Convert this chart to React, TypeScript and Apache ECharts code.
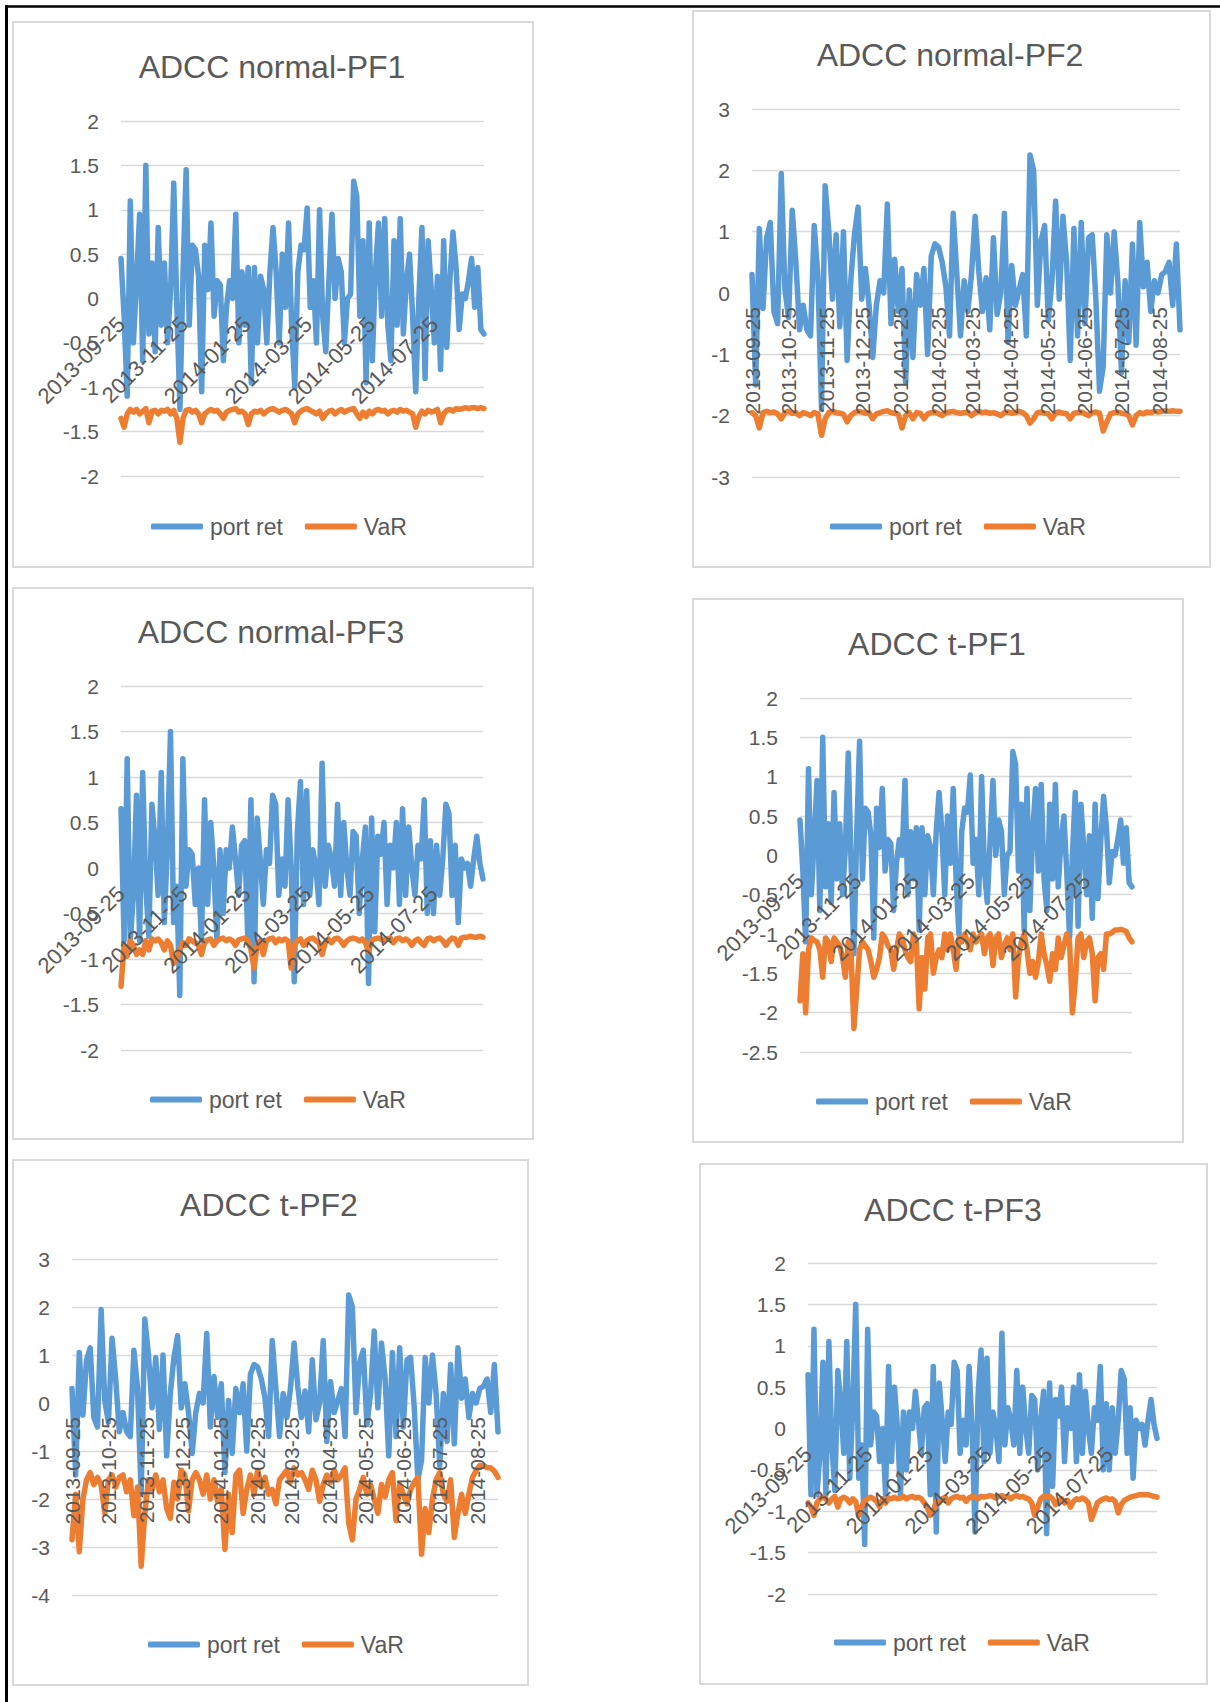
import React, { useEffect, useRef } from "react";
import * as echarts from "echarts";

// ---------- categories (calendar days on the date axis) ----------
const START_DATE = "2013-09-25";
const DAY_COUNT = 352; // 2013-09-25 .. 2014-09-11
const STEP = 3; // one stored value every 3 calendar days
const dates: string[] = Array.from({ length: DAY_COUNT }, (_, i) =>
  new Date(Date.parse(START_DATE + "T00:00:00Z") + i * 86400000).toISOString().slice(0, 10)
);

// ---------- series values ----------
const PF1_RET = [
  0.45, -0.2, -1.1, 1.1, -0.5, 0.2, 0.95, -0.7, 1.5, -0.4,
  0.4, -0.6, 0.8, -0.3, 0.4, -0.5, 0.1, 1.3, -0.1, -1.25,
  0.3, 1.45, -0.3, 0.6, 0.55, 0.25, -1.05, 0.6, 0.1, 0.85,
  -0.2, 0.2, 0.15, -0.7, -0.1, 0.2, 0, 0.95, -0.5, 0.3,
  -0.3, 0.35, -0.95, 0.35, -0.5, 0.25, 0.1, -0.5, 0.3, 0.8,
  0.3, -0.5, 0.5, -0.1, 0.85, -0.3, -1.0, 0.3, 0.6, 0.55,
  1.02, -0.1, 0.2, -0.5, 1.0, -0.2, -0.6, 0.2, 0.95, 0,
  0.45, 0.3, -0.5, 0, 0.05, 1.32, 1.15, -0.2, 0.65, -0.95,
  0.85, -0.7, 0.3, 0.85, -0.2, 0.9, -0.3, -0.7, 0.65, -0.3,
  0.9, -0.4, 0.2, 0.5, -0.2, -1.05, 0.0, 0.8, -0.9, 0.65,
  0.1, -0.5, 0.25, -0.8, 0.65, -0.55, 0.2, 0.75, 0.35, -0.35,
  0.05, 0, 0.2, 0.45, -0.1, 0.35, -0.35, -0.4,
];

const PF2_RET = [
  0.3, -1.5, 1.05, -0.25, 0.9, 1.15, -0.3, -0.5, 1.95, 0.05,
  -0.4, 1.35, 0.5, -0.6, -0.2, -0.6, -0.7, 1.1, 0.3, -1.9,
  1.75, 1.0, -0.1, 0.95, -0.55, 1.0, -1.1, 0.2, 0.95, 1.4,
  -0.1, 0.4, -0.2, -1.05, -0.2, 0.2, 0.0, 1.45, -0.5, 0.55,
  -0.3, 0.4, -1.45, 0.05, -1.05, 0.3, -0.2, 0.4, -1.0, 0.6,
  0.8, 0.75, 0.5, 0.1, -0.7, 1.3, 0.3, -0.7, 0.2, -0.3,
  0.3, 1.25, 0.35, -0.3, 0.25, -0.6, 0.9, -0.35, 0.0, 1.3,
  -0.8, 0.45, -0.2, 0.05, 0.3, -0.7, 2.25, 2.0, -0.2, 0.85,
  1.1, -0.45, 0.2, 1.5, -0.1, 1.25, 0.5, -1.1, 1.05, -0.7,
  1.15, -0.5, 0.9, 0.95, -0.1, -1.6, -1.2, 0.95, 0.0, 1.0,
  0.2, -1.3, 0.2, -0.8, 0.8, -0.85, 1.15, 0.1, 0.5, -0.3,
  0.2, 0.0, 0.3, 0.35, 0.5, -0.2, 0.8, -0.6,
];

const PF3_RET = [
  0.65, -0.8, 1.2, -0.8, -0.3, 0.8, -0.8, 1.05, -0.2, -0.75,
  0.7, 0.3, -0.3, 1.05, -0.6, 0.25, 1.5, -0.6, -0.2, -1.4,
  1.2, -0.2, 0.2, 0.15, -0.4, 0.0, -0.8, 0.75, -0.4, 0.5,
  0.0, -0.8, 0.2, -0.5, 0.2, 0.0, 0.45, 0.1, -0.3, 0.25,
  0.3, -0.8, 0.75, -1.25, 0.55, 0.1, -0.4, 0.2, 0.05, 0.8,
  0.7, -0.3, 0.1, -0.2, 0.75, 0.0, -1.25, 0.4, 0.95, -0.4,
  0.85, -0.3, 0.2, 0.0, -0.4, 1.15, -0.2, 0.25, 0.1, -0.2,
  0.7, -0.3, 0.5, 0.0, -0.3, 0.4, 0.35, -0.5, 0.1, 0.45,
  -1.27, 0.55, -0.7, 0.35, 0.15, 0.5, -0.4, 0.25, 0.0, 0.5,
  -0.4, 0.65, -0.3, 0.45, 0.0, -0.3, 0.25, 0.1, 0.75, -0.5,
  0.3, -0.5, 0.25, -0.3, 0.1, 0.7, 0.6, -0.3, 0.25, -0.6,
  0.1, 0.0, 0.05, -0.2, 0.1, 0.35, 0.05, -0.12,
];

const VAR_N_PF1 = [
  -1.35, -1.45, -1.3, -1.25, -1.28, -1.25, -1.3, -1.27, -1.24, -1.4,
  -1.27, -1.26, -1.3, -1.26, -1.27, -1.25, -1.3, -1.26, -1.35, -1.62,
  -1.35, -1.26, -1.25, -1.28, -1.26, -1.3, -1.4, -1.3, -1.27, -1.25,
  -1.27, -1.26, -1.3, -1.35, -1.28, -1.26, -1.25, -1.24, -1.28, -1.27,
  -1.3, -1.42, -1.3, -1.27, -1.28, -1.26, -1.3, -1.27, -1.25, -1.24,
  -1.26, -1.28, -1.26, -1.25, -1.27, -1.3, -1.4, -1.3, -1.27, -1.25,
  -1.24, -1.26, -1.28, -1.3, -1.27, -1.35, -1.3, -1.27, -1.26, -1.3,
  -1.27, -1.25, -1.28, -1.26, -1.25, -1.24, -1.3, -1.35, -1.28, -1.33,
  -1.27, -1.3, -1.26, -1.25, -1.27, -1.26, -1.3, -1.27, -1.26, -1.28,
  -1.25, -1.27, -1.26, -1.28, -1.3, -1.45, -1.33, -1.27, -1.3, -1.26,
  -1.28, -1.27, -1.25, -1.4, -1.3, -1.26, -1.25, -1.27, -1.24, -1.25,
  -1.24, -1.23, -1.24, -1.23, -1.23, -1.24, -1.23, -1.24,
];

const VAR_N_PF2 = [
  -1.95, -2.0, -2.2, -1.95, -1.93, -1.95, -1.94, -1.97, -2.05, -1.95,
  -1.93, -1.96, -1.95, -2.0, -1.95, -1.97, -2.0, -1.95, -1.97, -2.32,
  -2.05, -1.95, -1.93, -1.95, -1.96, -1.98, -2.1, -2.0, -1.95, -1.93,
  -1.94, -1.96, -1.95, -2.05, -1.97, -1.95, -1.93, -1.92, -1.95, -1.96,
  -1.98, -2.2, -2.0, -1.95, -2.05, -1.95, -1.96, -2.05, -1.97, -1.95,
  -1.94, -1.97, -2.0, -1.95, -1.94, -1.93, -1.95, -1.96, -1.95, -1.94,
  -2.0, -1.95, -1.93, -1.95, -1.94, -1.96, -1.95, -1.97, -2.0, -1.95,
  -1.94, -1.96, -1.95, -1.93, -1.95, -2.0, -2.12, -2.05, -1.95, -1.94,
  -1.96, -1.97, -2.05, -1.95, -1.94, -1.96, -1.97, -2.05, -1.96, -1.95,
  -1.94, -1.97, -2.0, -1.95, -1.94, -1.96, -2.25, -2.1, -1.97, -1.95,
  -1.94, -1.96, -1.97, -2.0, -2.15, -2.0, -1.95, -1.97, -1.94, -1.95,
  -1.93, -1.94, -1.93, -1.92, -1.93, -1.92, -1.93, -1.93,
];

const VAR_N_PF3 = [
  -1.3, -0.85, -0.97, -0.8, -0.85, -0.95, -0.9, -0.95, -0.8, -0.9,
  -0.78, -0.8, -0.78, -0.82, -0.9, -0.8, -0.85, -1.05, -1.0, -0.9,
  -0.82, -0.85, -0.78, -0.8, -0.82, -0.85, -0.95, -0.82, -0.79, -0.78,
  -0.85, -0.8, -0.78, -0.77, -0.8, -0.78, -0.8, -0.85, -0.79, -0.78,
  -0.77, -0.8, -0.9, -1.1, -0.85, -0.8, -0.95, -0.8, -0.78, -0.77,
  -0.82, -0.78, -0.8, -0.78, -0.8, -1.1, -0.85, -0.8, -0.78, -0.85,
  -0.8, -0.78, -0.77, -0.8, -0.82, -0.95, -0.82, -0.78, -0.82, -0.78,
  -0.77, -0.8, -0.85, -0.8, -0.78, -0.77, -0.78, -0.8, -0.78, -0.82,
  -0.92, -0.8, -0.78, -0.77, -0.78, -0.8, -0.78, -0.77, -0.82, -0.78,
  -0.77, -0.8, -0.78, -0.8, -0.85, -0.8, -0.78, -0.82, -0.85, -0.78,
  -0.77, -0.8, -0.78, -0.77, -0.8, -0.85, -0.8, -0.77, -0.78, -0.85,
  -0.77, -0.76, -0.76, -0.75, -0.76, -0.76, -0.75, -0.76,
];

const VAR_T_PF1 = [
  -1.85, -1.25, -2.0, -1.2, -1.05, -1.08, -1.1, -1.2, -1.55, -1.05,
  -1.1, -1.35, -1.05, -1.1, -1.15, -1.3, -1.55, -1.1, -1.25, -2.2,
  -1.7, -1.2, -1.1, -1.15, -1.2, -1.35, -1.55, -1.45, -1.3, -1.0,
  -1.05, -1.15, -1.2, -1.45, -1.2, -1.0, -1.05, -1.2, -1.3, -1.35,
  -1.0, -1.1, -1.95, -1.3, -1.7, -1.05, -1.0, -1.5, -1.3, -1.2,
  -1.3, -1.0, -1.2, -1.0, -1.2, -1.45, -1.05, -1.1, -1.0, -1.1,
  -1.2, -1.0, -1.1, -1.05, -1.0, -1.25, -1.05, -1.0, -1.4, -1.05,
  -1.0, -1.3, -1.15, -1.05, -1.2, -1.0, -1.8, -1.3, -1.1, -1.0,
  -1.2, -1.5, -1.35, -1.55, -1.35, -1.0, -1.25, -1.4, -1.6, -1.25,
  -1.45, -1.05, -1.3, -1.15, -1.0, -1.1, -2.0, -1.6, -1.05, -1.0,
  -1.3, -1.1, -1.05, -1.25, -1.85, -1.3, -1.25, -1.45, -1.0, -1.0,
  -0.98, -0.95, -0.95, -0.94, -0.95, -0.97, -1.05, -1.1,
];

const VAR_T_PF2 = [
  -2.85, -1.9, -3.1, -2.0, -1.6, -1.45, -1.7, -1.55, -1.7, -2.3,
  -1.6, -1.5, -1.75, -1.55, -1.5, -1.85, -1.6, -2.35, -1.75, -3.4,
  -2.3, -1.6, -1.8, -1.5, -1.85, -1.6, -2.2, -2.4, -1.65, -2.0,
  -1.4, -1.5, -2.25, -1.6, -1.45, -1.6, -1.9, -1.5, -2.0, -1.6,
  -2.05, -1.8, -3.05, -1.9, -2.7, -1.5, -1.4, -2.3, -1.8, -1.5,
  -1.9, -1.4, -1.75, -1.55, -1.9, -1.8, -2.1, -1.6, -1.5, -1.4,
  -1.65, -1.35, -1.5, -1.45, -1.6, -1.8, -1.4, -1.6, -2.05, -1.7,
  -1.5, -1.65, -1.4, -1.6, -1.5, -1.35, -2.5, -2.85, -2.0, -1.8,
  -1.55, -1.9, -1.7, -2.0, -2.3, -1.7, -1.95, -1.6, -1.45, -2.45,
  -1.7, -1.9, -2.1, -1.8, -1.65, -1.55, -3.15, -2.2, -2.7, -2.0,
  -1.6, -1.45, -1.9, -2.05, -1.6, -2.8, -2.3, -1.9, -2.3, -1.9,
  -1.55, -1.4, -1.3, -1.3, -1.35, -1.35, -1.42, -1.55,
];

const VAR_T_PF3 = [
  -0.9, -0.95, -1.05, -0.9, -0.85, -0.83, -0.85, -0.9, -0.85, -0.82,
  -0.95, -0.85, -0.83, -0.85, -0.9, -0.85, -0.88, -1.05, -0.95, -0.87,
  -0.85, -0.83, -0.85, -0.88, -0.95, -0.85, -0.9, -0.84, -0.85, -0.83,
  -0.85, -0.84, -0.82, -0.85, -0.83, -0.82, -0.84, -0.83, -0.85, -0.9,
  -0.95, -1.05, -1.0, -0.88, -0.9, -0.85, -0.83, -0.9, -0.85, -0.83,
  -0.82, -0.84, -0.83, -0.88, -0.84, -0.82, -0.83, -0.85, -0.82, -0.83,
  -0.82, -0.81, -0.82, -0.84, -0.82, -0.81, -0.83, -0.82, -0.85, -0.82,
  -0.81, -0.83, -0.82, -0.84, -0.85, -0.9, -1.05, -0.95, -0.85, -0.82,
  -0.83, -0.82, -0.85, -0.92, -0.88, -0.85, -0.9, -0.87, -0.95, -0.88,
  -0.85, -0.86, -0.84, -0.86, -0.9, -1.1, -1.0, -0.9, -0.87, -0.85,
  -0.84, -0.86, -0.85, -0.88, -1.02, -0.92, -0.87, -0.85, -0.83, -0.82,
  -0.81, -0.8, -0.8, -0.8, -0.8, -0.81, -0.82, -0.83,
];

const SERIES_NAMES = ["port ret", "VaR"];
const TITLES = [
  "ADCC normal-PF1",
  "ADCC normal-PF2",
  "ADCC normal-PF3",
  "ADCC t-PF1",
  "ADCC t-PF2",
  "ADCC t-PF3",
];

// ---------- layout / styles ----------
const FONT = '"Liberation Sans", Arial, sans-serif';
const TEXT = "#595959";
const GRIDC = "#d9d9d9";
const BLUE = "#5B9BD5";
const ORANGE = "#ED7D31";

type Panel = {
  box: number[];
  tx: number;
  ty: number;
  grid: number[];
  min: number;
  max: number;
  interval: number;
  rotate: number;
  monthly: boolean;
  lx: number;
  ly: number;
  ret: number[];
  vr: number[];
};

const PANELS: Panel[] = [
  { box: [13, 22, 520, 545], tx: 272, ty: 67, grid: [121, 121, 363, 355], min: -2, max: 2, interval: 0.5, rotate: 45, monthly: false, lx: 151, ly: 529, ret: PF1_RET, vr: VAR_N_PF1 },
  { box: [693, 11, 517, 556], tx: 950, ty: 55, grid: [752, 109, 428, 368], min: -3, max: 3, interval: 1, rotate: 90, monthly: true, lx: 830, ly: 529, ret: PF2_RET, vr: VAR_N_PF2 },
  { box: [13, 588, 520, 551], tx: 271, ty: 632, grid: [121, 686, 362, 364], min: -2, max: 2, interval: 0.5, rotate: 45, monthly: false, lx: 150, ly: 1102, ret: PF3_RET, vr: VAR_N_PF3 },
  { box: [693, 599, 490, 543], tx: 937, ty: 644, grid: [800, 698, 332, 354], min: -2.5, max: 2, interval: 0.5, rotate: 45, monthly: false, lx: 816, ly: 1104, ret: PF1_RET, vr: VAR_T_PF1 },
  { box: [13, 1160, 515, 525], tx: 269, ty: 1205, grid: [72, 1259, 426, 336], min: -4, max: 3, interval: 1, rotate: 90, monthly: true, lx: 148, ly: 1647, ret: PF2_RET, vr: VAR_T_PF2 },
  { box: [700, 1164, 507, 520], tx: 953, ty: 1210, grid: [808, 1263, 349, 331], min: -2, max: 2, interval: 0.5, rotate: 45, monthly: false, lx: 834, ly: 1645, ret: PF3_RET, vr: VAR_T_PF3 },
];

const toPairs = (vals: number[]) => vals.map((v, i) => [i * STEP, v]);

function buildOption() {
  const grid: any[] = [];
  const xAxis: any[] = [];
  const yAxis: any[] = [];
  const series: any[] = [];
  const legend: any[] = [];
  const graphic: any[] = [];

  PANELS.forEach((p, i) => {
    grid.push({ left: p.grid[0], top: p.grid[1], width: p.grid[2], height: p.grid[3], containLabel: false });
    const labelFn = p.monthly
      ? (_idx: number, val: string) => val.endsWith("-25")
      : (_idx: number, val: string) => val.endsWith("-25") && parseInt(val.slice(5, 7), 10) % 2 === 1;
    // distance from the bottom of the plot to the zero line: the date axis sits on 0
    const zeroOffset = (p.grid[3] * -p.min) / (p.max - p.min);
    const diag = p.rotate !== 90;
    xAxis.push({
      type: "category",
      gridIndex: i,
      data: dates,
      boundaryGap: false,
      position: "bottom",
      offset: -zeroOffset,
      z: 5,
      axisLine: { show: false, onZero: false },
      axisTick: { show: false },
      axisLabel: {
        interval: labelFn,
        rotate: p.rotate,
        margin: diag ? 22 : 14,
        padding: diag ? [24, 0, 0, 0] : 0,
        fontSize: diag ? 22 : 21,
        color: TEXT,
        fontFamily: FONT,
      },
      splitLine: { show: false },
    });
    yAxis.push({
      type: "value",
      gridIndex: i,
      min: p.min,
      max: p.max,
      interval: p.interval,
      axisLine: { show: false },
      axisTick: { show: false },
      axisLabel: { fontSize: 21, color: TEXT, fontFamily: FONT, margin: 22 },
      splitLine: { lineStyle: { color: GRIDC, width: 1.3 } },
    });
    series.push({
      name: SERIES_NAMES[0],
      type: "line",
      xAxisIndex: i,
      yAxisIndex: i,
      data: toPairs(p.ret),
      symbol: "none",
      showSymbol: false,
      color: BLUE,
      lineStyle: { color: BLUE, width: 5.5, cap: "round", join: "round" },
      z: 2,
    });
    series.push({
      name: SERIES_NAMES[1],
      type: "line",
      xAxisIndex: i,
      yAxisIndex: i,
      data: toPairs(p.vr),
      symbol: "none",
      showSymbol: false,
      color: ORANGE,
      lineStyle: { color: ORANGE, width: 5.5, cap: "round", join: "round" },
      z: 3,
    });
    legend.push({
      data: SERIES_NAMES,
      left: p.lx,
      top: p.ly - 14,
      padding: 0,
      itemWidth: 52,
      itemHeight: 6,
      itemGap: 22,
      icon: "roundRect",
      selectedMode: false,
      textStyle: { fontSize: 23, color: TEXT, fontFamily: FONT, padding: [0, 0, 0, 2] },
    });
    graphic.push({
      type: "rect",
      shape: { x: p.box[0], y: p.box[1], width: p.box[2], height: p.box[3] },
      style: { fill: "none", stroke: GRIDC, lineWidth: 2 },
      z: 1,
      silent: true,
    });
    graphic.push({
      type: "text",
      x: p.tx,
      y: p.ty,
      style: {
        text: TITLES[i],
        font: `32px ${FONT}`,
        fill: TEXT,
        textAlign: "center",
        textVerticalAlign: "middle",
        align: "center",
        verticalAlign: "middle",
      },
      z: 10,
      silent: true,
    });
  });

  // outer black frame (top and left edges)
  graphic.push({
    type: "line",
    shape: { x1: 5, y1: 6.5, x2: 1220, y2: 6.5 },
    style: { stroke: "#000", lineWidth: 2.5 },
    silent: true,
  });
  graphic.push({
    type: "line",
    shape: { x1: 6.5, y1: 5, x2: 6.5, y2: 1702 },
    style: { stroke: "#000", lineWidth: 3 },
    silent: true,
  });

  return {
    animation: false,
    backgroundColor: "#ffffff",
    textStyle: { fontFamily: FONT },
    grid,
    xAxis,
    yAxis,
    legend,
    series,
    graphic,
  };
}

export default function App() {
  const ref = useRef<HTMLDivElement>(null);
  useEffect(() => {
    if (!ref.current) return;
    const chart = echarts.init(ref.current, undefined, { renderer: "svg" });
    chart.setOption(buildOption() as any);
    return () => chart.dispose();
  }, []);
  return (
    <div
      ref={ref}
      style={{ position: "absolute", left: 0, top: 0, width: 1220, height: 1702, background: "#fff" }}
    />
  );
}
